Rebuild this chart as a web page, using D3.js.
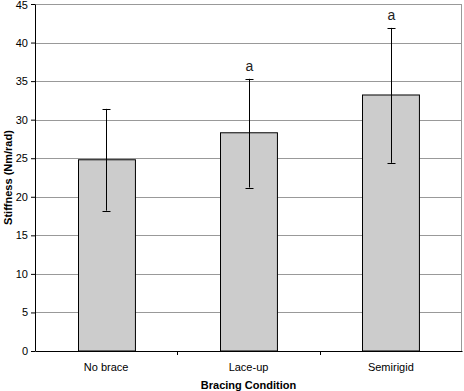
<!DOCTYPE html>
<html>
<head>
<meta charset="utf-8">
<script src="https://cdn.jsdelivr.net/npm/d3@7"></script>
<style>
  body { margin: 0; background: #fff; }
  text { font-family: "Liberation Sans", Arial, sans-serif; }
</style>
</head>
<body>
<svg width="464" height="391"></svg>
<script>
const categories = ["No brace", "Lace-up", "Semirigid"]
const means = [24.8, 28.3, 33.2]
const errLow = [18.2, 21.2, 24.4]
const errHigh = [31.4, 35.3, 41.9]
const sigLabels = ["", "a", "a"]
const yTicks = [0, 5, 10, 15, 20, 25, 30, 35, 40, 45]

const svg = d3.select("svg")
const margin = { top: 4, right: 2, bottom: 40, left: 35 }
const width = +svg.attr("width") - margin.left - margin.right
const height = +svg.attr("height") - margin.top - margin.bottom

const g = svg.append("g").attr("transform", `translate(${margin.left},${margin.top})`)

const x = d3.scaleBand()
    .domain(categories)
    .range([0, width])
    .paddingInner(0.6)
    .paddingOuter(0.3)

const xOuter = d3.scaleBand().domain(categories).range([0, width])

const y = d3.scaleLinear().domain([0, 45]).range([height, 0])

// gridlines
g.append("g")
    .selectAll("line")
    .data(yTicks.filter(d => d > 0))
    .enter()
    .append("line")
    .attr("x1", 0)
    .attr("x2", width)
    .attr("y1", d => Math.round(y(d)) + 0.5)
    .attr("y2", d => Math.round(y(d)) + 0.5)
    .attr("stroke", "#999")
    .attr("stroke-width", 1)

// right border
g.append("line")
    .attr("x1", width - 0.5).attr("x2", width - 0.5)
    .attr("y1", y(45)).attr("y2", y(0))
    .attr("stroke", "#999")

// bars
g.append("g")
    .selectAll("rect")
    .data(categories)
    .enter()
    .append("rect")
    .attr("x", d => Math.round(x(d)) + 0.5)
    .attr("y", (d, i) => y(means[i]))
    .attr("width", x.bandwidth())
    .attr("height", (d, i) => y(0) - y(means[i]))
    .attr("fill", "#cccccc")
    .attr("stroke", "#000")
    .attr("stroke-width", 1)

// error bars
const err = g.append("g")
    .selectAll("g")
    .data(categories)
    .enter()
    .append("g")
    .attr("transform", d => `translate(${Math.round(x(d) + x.bandwidth() / 2) + 0.5},0)`)

err.append("line")
    .attr("y1", (d, i) => y(errLow[i]))
    .attr("y2", (d, i) => y(errHigh[i]))
    .attr("stroke", "#000")

err.selectAll("line.cap")
    .data((d, i) => [errLow[i], errHigh[i]])
    .enter()
    .append("line")
    .attr("class", "cap")
    .attr("x1", -4).attr("x2", 4)
    .attr("y1", v => Math.round(y(v)) + 0.5)
    .attr("y2", v => Math.round(y(v)) + 0.5)
    .attr("stroke", "#000")

err.append("text")
    .attr("y", (d, i) => y(errHigh[i]) - 8)
    .attr("text-anchor", "middle")
    .style("font-size", "14px")
    .attr("fill", "#222")
    .text((d, i) => sigLabels[i])

// y axis
const yAxis = g.append("g")
    .call(d3.axisLeft(y).tickValues(yTicks).tickSize(4).tickSizeOuter(0))
yAxis.select(".domain").attr("stroke", "#000")
yAxis.selectAll("text").style("font-size", "11px").attr("fill", "#000")
yAxis.selectAll(".tick").filter(d => d === 45).select("text").attr("dy", "0.45em")

// x axis
const xAxis = g.append("g")
    .attr("transform", `translate(0,${height})`)
    .call(d3.axisBottom(xOuter).tickSize(0).tickPadding(12))
xAxis.select(".domain").attr("stroke", "#000")
xAxis.selectAll("text").style("font-size", "11px").attr("fill", "#000")

g.append("g")
    .selectAll("line")
    .data(categories.slice(1))
    .enter()
    .append("line")
    .attr("x1", d => Math.round(xOuter(d)) + 0.5)
    .attr("x2", d => Math.round(xOuter(d)) + 0.5)
    .attr("y1", height)
    .attr("y2", height + 4)
    .attr("stroke", "#000")

// titles
svg.append("text")
    .attr("x", margin.left + width / 2)
    .attr("y", 389)
    .attr("text-anchor", "middle")
    .style("font-size", "11px")
    .style("font-weight", "bold")
    .text("Bracing Condition")

svg.append("text")
    .attr("transform", `translate(12,${margin.top + height / 2}) rotate(-90)`)
    .attr("text-anchor", "middle")
    .style("font-size", "11px")
    .style("font-weight", "bold")
    .text("Stiffness (Nm/rad)")
</script>
</body>
</html>
